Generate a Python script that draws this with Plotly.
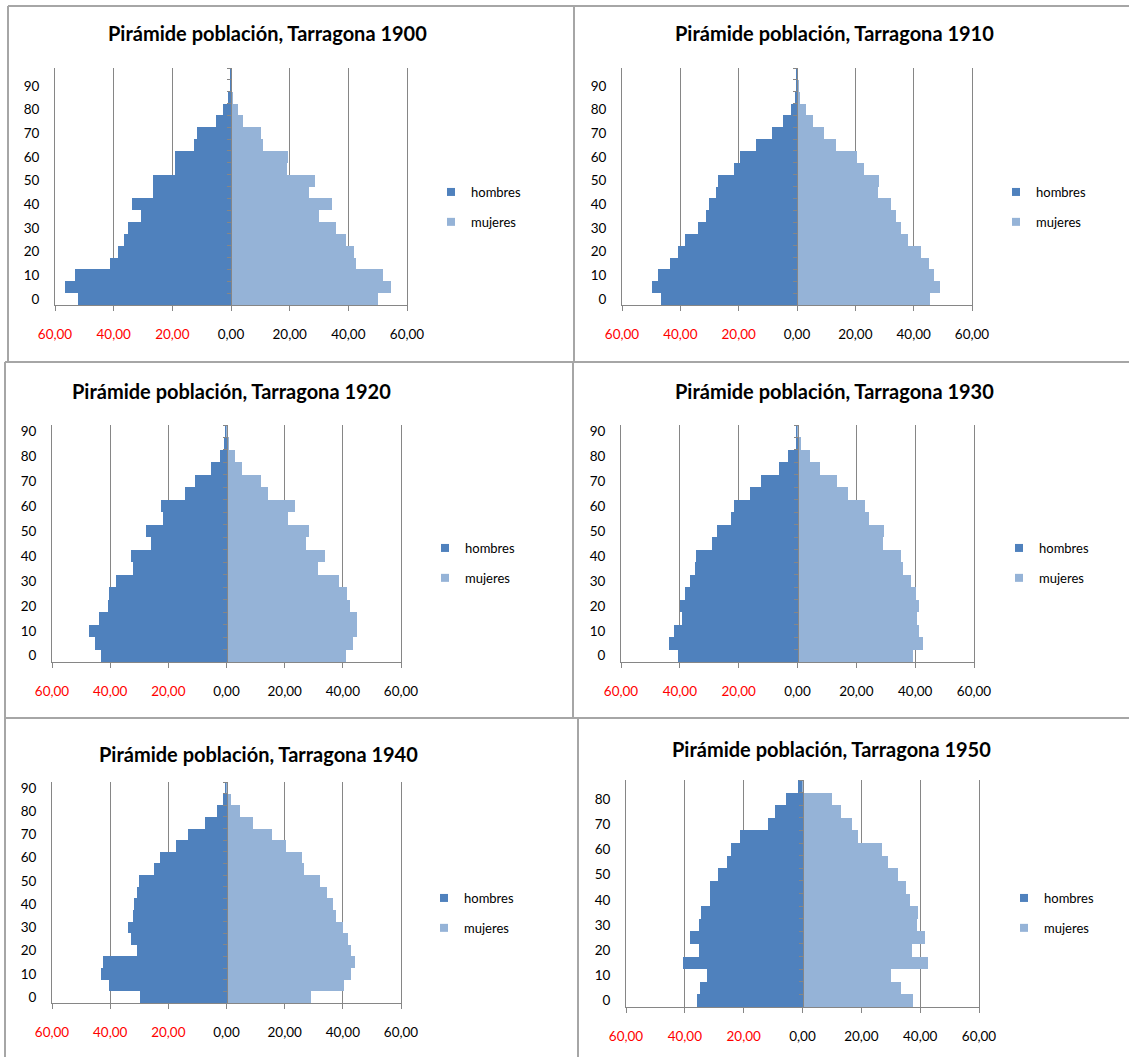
import plotly.graph_objects as go

# ---------------- data ----------------
grupos_edad = [0, 5, 10, 15, 20, 25, 30, 35, 40, 45, 50, 55, 60, 65, 70, 75, 80, 85, 90, 95]

hombres_1900 = [52.0, 56.5, 53.3, 41.1, 38.6, 36.5, 35.2, 30.8, 33.6, 26.5, 26.5, 19.2, 19.2, 12.7, 11.5, 5.2, 2.7, 0.9, 0.2, 0.1]
mujeres_1900 = [50.0, 54.5, 51.7, 42.6, 42.0, 39.2, 35.8, 30.1, 34.4, 26.7, 28.5, 19.2, 19.5, 10.8, 10.3, 4.1, 2.5, 0.7, 0.2, 0.1]

hombres_1910 = [46.8, 49.8, 47.8, 43.6, 40.8, 38.5, 33.9, 31.1, 30.3, 27.9, 27.1, 21.5, 19.5, 13.9, 8.7, 4.9, 2.2, 0.8, 0.3, 0.1]
mujeres_1910 = [45.6, 48.9, 46.9, 45.2, 42.6, 38.0, 35.5, 34.1, 32.3, 27.9, 28.2, 23.1, 20.4, 13.4, 9.1, 5.4, 3.0, 1.0, 0.4, 0.2]

hombres_1920 = [43.0, 45.2, 47.2, 43.9, 40.7, 40.3, 38.1, 32.1, 32.9, 26.0, 27.7, 21.8, 22.6, 14.2, 10.9, 5.3, 2.3, 0.9, 0.3]
mujeres_1920 = [41.0, 43.5, 45.0, 45.0, 42.6, 41.5, 38.7, 31.5, 33.8, 27.5, 28.3, 21.2, 23.5, 14.3, 11.7, 5.2, 2.9, 0.9, 0.2]

hombres_1930 = [40.7, 43.8, 42.1, 39.1, 39.9, 38.3, 36.7, 35.0, 34.5, 29.2, 27.3, 22.5, 21.5, 16.0, 12.3, 6.2, 3.1, 0.6, 0.2]
mujeres_1930 = [39.1, 42.5, 41.3, 40.5, 41.3, 40.2, 38.5, 36.0, 35.2, 28.9, 29.4, 24.3, 23.0, 17.0, 13.4, 7.7, 4.1, 1.2, 0.4]

hombres_1940 = [29.9, 40.4, 43.3, 42.4, 30.7, 33.0, 33.8, 32.2, 31.7, 30.7, 30.1, 25.1, 23.0, 17.2, 13.2, 7.3, 3.3, 1.1, 0.3]
mujeres_1940 = [29.2, 40.5, 42.8, 44.1, 42.8, 41.8, 40.0, 37.7, 36.5, 34.6, 32.3, 26.8, 26.0, 20.6, 15.5, 9.2, 4.8, 1.6, 0.5]

hombres_1950 = [35.7, 34.9, 32.4, 40.5, 35.2, 38.2, 35.2, 34.4, 31.6, 31.6, 28.7, 25.8, 24.2, 21.4, 11.7, 9.2, 5.5, 1.5]
mujeres_1950 = [37.6, 33.5, 30.2, 42.6, 37.3, 41.8, 39.0, 39.2, 36.5, 35.2, 32.4, 29.1, 27.1, 18.9, 16.9, 13.1, 9.9, 0.6]

anios = [1900, 1910, 1920, 1930, 1940, 1950]
hombres = [hombres_1900, hombres_1910, hombres_1920, hombres_1930, hombres_1940, hombres_1950]
mujeres = [mujeres_1900, mujeres_1910, mujeres_1920, mujeres_1930, mujeres_1940, mujeres_1950]

x_tickvals = [-60, -40, -20, 0, 20, 40, 60]
x_ticktext = ["60,00", "40,00", "20,00", "0,00", "20,00", "40,00", "60,00"]
titulo = "Pirámide población, Tarragona {}"
serie_h = "hombres"
serie_m = "mujeres"

# ---------------- layout geometry (pixels) ----------------
W, H = 1129, 1057
# plot areas: (x0, x1, y0, y1)
areas = [
    (55, 407, 68, 305),
    (622, 972, 68, 305),
    (52, 401, 425, 662),
    (621, 974, 425, 662),
    (52, 401, 782, 1003),
    (626, 979, 780, 1007),
]
titulos_pos = [(267, 33), (834, 33), (231, 391), (835, 391), (258, 754), (831, 749)]
leyenda_pos = [(431, 177), (996, 177), (425, 533), (999, 533), (424, 883), (1004, 883)]

C_H = "#4F81BD"
C_M = "#95B3D7"
GRIS = "#868686"
FONT = "Lato"

fig = go.Figure()
layout = dict(
    template="none",
    width=W, height=H, autosize=False,
    margin=dict(l=0, r=0, t=0, b=0, pad=0, autoexpand=False),
    paper_bgcolor="white", plot_bgcolor="white",
    barmode="overlay", bargap=0,
    showlegend=True,
    font=dict(family=FONT, size=13, color="#000000"),
)

def px_x(v):
    return v / W

def px_y(v):
    return 1 - v / H

annotations = []
shapes = []

for i, anio in enumerate(anios):
    n = i + 1
    ov = i + 7
    xname = "x" if n == 1 else f"x{n}"
    yname = "y" if n == 1 else f"y{n}"
    yov = f"y{ov}"
    legname = "legend" if n == 1 else f"legend{n}"
    x0, x1, y0, y1 = areas[i]
    h = hombres[i]
    m = mujeres[i]
    edades = grupos_edad[:len(h)]
    top = edades[-1] + 2.5
    rng = [-2.5, top]

    fig.add_trace(go.Bar(
        y=edades, x=[-v for v in h], orientation="h", width=5,
        marker=dict(color=C_H, line=dict(width=0)),
        name=serie_h, showlegend=False, xaxis=xname, yaxis=yname,
        hoverinfo="skip"))
    fig.add_trace(go.Bar(
        y=edades, x=m, orientation="h", width=5,
        marker=dict(color=C_M, line=dict(width=0)),
        name=serie_m, showlegend=False, xaxis=xname, yaxis=yov,
        hoverinfo="skip"))
    # legend entries
    fig.add_trace(go.Scatter(x=[None], y=[None], mode="markers",
                             marker=dict(symbol="square", size=8, color=C_H),
                             name=serie_h, legend=legname, legendgroup=f"h{n}",
                             xaxis=xname, yaxis=yname))
    fig.add_trace(go.Scatter(x=[None], y=[None], mode="markers",
                             marker=dict(symbol="square", size=8, color=C_M),
                             name=serie_m, legend=legname, legendgroup=f"m{n}",
                             xaxis=xname, yaxis=yname))

    ticktext = []
    for v, t in zip(x_tickvals, x_ticktext):
        if v < 0:
            ticktext.append(f'<span style="color:#FF0000">{t}</span>')
        else:
            ticktext.append(t)

    layout["xaxis" if n == 1 else f"xaxis{n}"] = dict(
        domain=[px_x(x0), px_x(x1)], anchor=yname, range=[-60, 60],
        tickvals=x_tickvals, ticktext=ticktext, automargin=False,
        showgrid=True, gridcolor=GRIS, gridwidth=1,
        zeroline=False, showline=True, linecolor=GRIS, linewidth=1,
        ticks="outside", ticklen=5, tickcolor=GRIS, tickwidth=1,
        ticklabelstandoff=12,
        tickfont=dict(family=FONT, size=13.5, color="#000000"),
        fixedrange=True,
    )
    ylab = [e for e in edades if e % 10 == 0]
    layout["yaxis" if n == 1 else f"yaxis{n}"] = dict(
        domain=[px_y(y1), px_y(y0)], anchor=xname, range=rng,
        tickvals=ylab, ticktext=[str(e) for e in ylab], automargin=False,
        showgrid=False, zeroline=False, showline=True, mirror=True,
        linecolor=GRIS, linewidth=1, ticks="",
        ticklabelstandoff=12,
        tickfont=dict(family=FONT, size=13.5, color="#000000"),
        fixedrange=True,
    )
    bordes = [e - 2.5 for e in edades] + [top]
    layout[f"yaxis{ov}"] = dict(
        overlaying=yname, anchor="free", position=px_x((x0 + x1) / 2),
        side="left", range=rng, automargin=False,
        tickvals=bordes, showticklabels=False,
        showgrid=False, zeroline=False, showline=True, linecolor=GRIS, linewidth=1,
        ticks="outside", ticklen=4, tickcolor=GRIS, tickwidth=1,
        fixedrange=True,
    )
    lx, ly = leyenda_pos[i]
    layout[legname] = dict(
        x=px_x(lx), y=px_y(ly), xanchor="left", yanchor="top",
        bgcolor="rgba(0,0,0,0)", borderwidth=0,
        font=dict(family=FONT, size=13, color="#000000"),
        itemsizing="trace", tracegroupgap=10, traceorder="grouped",
    )
    tx, ty = titulos_pos[i]
    annotations.append(dict(
        text=titulo.format(anio), xref="paper", yref="paper",
        x=px_x(tx), y=px_y(ty), xanchor="center", yanchor="middle",
        showarrow=False,
        font=dict(family=FONT, size=20, color="#000000", weight="bold"),
    ))

# panel borders
lineas = [
    (8, 6, 1129, 6), (5, 362, 1129, 362), (5, 718, 1129, 718),
    (8, 6, 8, 362), (574, 6, 574, 362),
    (5, 362, 5, 1057), (573, 362, 573, 718), (578, 718, 578, 1057),
]
for (a, b, c, d) in lineas:
    shapes.append(dict(type="line", xref="paper", yref="paper",
                       x0=px_x(a), y0=px_y(b), x1=px_x(c), y1=px_y(d),
                       line=dict(color="#A6A6A6", width=2)))

layout["annotations"] = annotations
layout["shapes"] = shapes
fig.update_layout(**layout)
fig.write_html(
    "out.html",
    post_script="document.body.style.margin='0';document.body.style.overflow='hidden';",
)
